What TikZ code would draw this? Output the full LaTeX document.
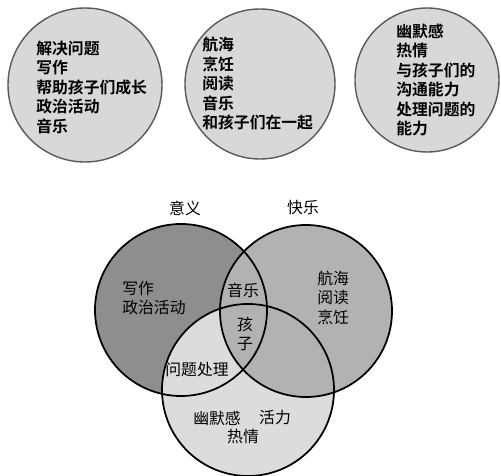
\documentclass[tikz,border=0pt]{standalone}
\usepackage{fontspec}
\usepackage{xcolor}
\usetikzlibrary{positioning}
\newfontfamily\cjk{Noto Sans CJK SC}[BoldFont={Noto Sans CJK SC Bold}]
\definecolor{ringgray}{HTML}{5A5A5A}
\definecolor{softgray}{HTML}{D8D8D8}
\definecolor{meaninggray}{HTML}{8E8E8E}
\definecolor{joygray}{HTML}{B2B2B2}
\definecolor{skillgray}{HTML}{DCDCDC}

\begin{document}
\begin{tikzpicture}[
  x=0.02cm, y=-0.02cm,
  listbox/.style={draw=ringgray, fill=softgray, line width=0.8pt},
  ring/.style={draw=black, line width=1pt},
  itemtext/.style={inner sep=0pt, align=left, anchor=west, font=\cjk\bfseries\fontsize{9}{11.1}\selectfont},
  venntext/.style={inner sep=0pt, align=center, font=\cjk\fontsize{9}{11.1}\selectfont}
]
  \useasboundingbox (0,0) rectangle (501,476);

  % Top circles
  \fill[white] (0,0) rectangle (501,476);
  \draw[listbox] (85,85) circle[radius=77];
  \draw[listbox] (260,84) circle[radius=75];
  \draw[listbox] (427,80) circle[radius=72];

  \node[itemtext] (listone) at (36,87.5) {解决问题\\写作\\帮助孩子们成长\\政治活动\\音乐};
  \node[itemtext] (listtwo) at (202,84) {航海\\烹饪\\阅读\\音乐\\和孩子们在一起};
  \node[itemtext] (listthree) at (396,80) {幽默感\\热情\\与孩子们的\\沟通能力\\处理问题的\\能力};

  % Venn diagram
  \fill[meaninggray] (181,310) circle[radius=86];
  \fill[skillgray] (248,390) circle[radius=86];
  \fill[joygray] (306,311) circle[radius=86];
  \draw[ring] (181,310) circle[radius=86];
  \draw[ring] (248,390) circle[radius=86];
  \draw[ring] (306,311) circle[radius=86];

  \node[venntext] (meaning) at (185,208) {意义};
  \node[venntext] (joy) at (303,208) {快乐};
  \node[venntext, anchor=west, align=left] (meaningonly) at (122,298) {写作\\政治活动};
  \node[venntext] (music) at (243,290) {音乐};
  \node[venntext, anchor=west, align=left] (joyonly) at (317,297.5) {航海\\阅读\\烹饪};
  \node[venntext] (kids) at (245,334) {孩\\子};
  \node[venntext] (problems) at (197,370) {问题处理};
  \node[venntext] (humor) at (217,418) {幽默感};
  \node[venntext] (vigor) at (275,418) {活力};
  \node[venntext] (warmth) at (243,437) {热情};
\end{tikzpicture}
\end{document}
